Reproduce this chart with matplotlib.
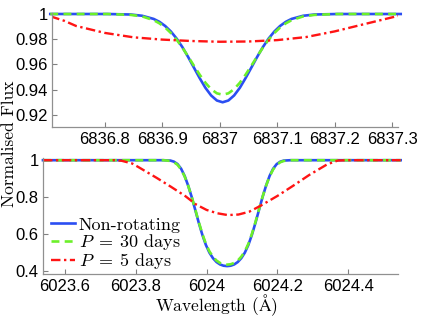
import numpy as np
import matplotlib
matplotlib.use("Agg")
import matplotlib.pyplot as plt
from matplotlib.ticker import FixedLocator, FixedFormatter

plt.rcParams['mathtext.fontset'] = 'cm'

# --- datos ---
# panel superior: linea 6837 A
wl_top = [6836.705, 6836.805, 6836.845, 6836.865, 6836.885, 6836.895, 6836.905,
          6836.915, 6836.925, 6836.935, 6836.945, 6836.955, 6836.965, 6836.975,
          6836.985, 6836.995, 6837.005, 6837.015, 6837.025, 6837.035, 6837.045,
          6837.055, 6837.065, 6837.075, 6837.085, 6837.095, 6837.105, 6837.115,
          6837.125, 6837.145, 6837.165, 6837.205, 6837.315]
flux_top_norot = [1.0, 1.0, 0.9996, 0.9986, 0.9961, 0.9938, 0.9905, 0.9861, 0.9805,
                  0.9737, 0.9659, 0.9575, 0.9492, 0.9415, 0.9354, 0.9314, 0.9300,
                  0.9314, 0.9354, 0.9415, 0.9492, 0.9575, 0.9659, 0.9737, 0.9805,
                  0.9861, 0.9905, 0.9938, 0.9961, 0.9986, 0.9996, 1.0, 1.0]
flux_top_p30 = [1.0, 1.0, 0.9993, 0.9981, 0.9951, 0.9926, 0.9893, 0.9849, 0.9796,
                0.9733, 0.9663, 0.9590, 0.9519, 0.9455, 0.9404, 0.9371, 0.9360,
                0.9371, 0.9404, 0.9455, 0.9519, 0.9590, 0.9663, 0.9733, 0.9796,
                0.9849, 0.9893, 0.9926, 0.9951, 0.9981, 0.9993, 1.0, 1.0]
wl_top_p5 = [6836.705, 6836.73, 6836.75, 6836.80, 6836.85, 6836.90, 6836.95, 6837.00,
             6837.05, 6837.10, 6837.15, 6837.20, 6837.25, 6837.315]
flux_top_p5 = [0.9982, 0.9945, 0.9905, 0.9850, 0.9815, 0.9797, 0.9786, 0.9780,
               0.9782, 0.9793, 0.9817, 0.9862, 0.9918, 0.9990]

# panel inferior: linea 6024 A
wl_bot = [6023.538, 6023.878, 6023.898, 6023.908, 6023.918, 6023.928, 6023.938,
          6023.948, 6023.958, 6023.968, 6023.978, 6023.988, 6023.998, 6024.008,
          6024.018, 6024.028, 6024.038, 6024.048, 6024.058, 6024.068, 6024.078,
          6024.088, 6024.098, 6024.108, 6024.118, 6024.128, 6024.138, 6024.148,
          6024.158, 6024.168, 6024.178, 6024.188, 6024.198, 6024.208, 6024.218,
          6024.238, 6024.548]
flux_bot_norot = [1.0, 1.0, 0.998, 0.992, 0.979, 0.954, 0.915, 0.862, 0.800, 0.730,
                  0.660, 0.595, 0.540, 0.498, 0.468, 0.447, 0.434, 0.427, 0.425,
                  0.427, 0.434, 0.447, 0.468, 0.498, 0.540, 0.595, 0.660, 0.730,
                  0.800, 0.862, 0.915, 0.954, 0.979, 0.992, 0.998, 1.0, 1.0]
flux_bot_p30 = [1.0, 1.0, 0.996, 0.989, 0.975, 0.950, 0.912, 0.862, 0.801, 0.733,
                0.664, 0.600, 0.546, 0.505, 0.476, 0.455, 0.442, 0.435, 0.433,
                0.435, 0.442, 0.455, 0.476, 0.505, 0.546, 0.600, 0.664, 0.733,
                0.801, 0.862, 0.912, 0.950, 0.975, 0.989, 0.996, 1.0, 1.0]
wl_bot_p5 = [6023.538, 6023.74, 6023.76, 6023.79, 6023.81, 6023.86, 6023.90, 6023.94,
             6023.97, 6024.00, 6024.03, 6024.06, 6024.09, 6024.12, 6024.15, 6024.20,
             6024.245, 6024.29, 6024.34, 6024.37, 6024.40, 6024.548]
flux_bot_p5 = [1.0, 1.0, 0.997, 0.982, 0.960, 0.903, 0.855, 0.805, 0.760, 0.730,
               0.712, 0.702, 0.705, 0.720, 0.750, 0.806, 0.862, 0.920, 0.977,
               0.998, 1.0, 1.0]

labels = ['Non-rotating', r'$P\;=\;30$ days', r'$P\;=\;5$ days']

xticks_top = [6836.8, 6836.9, 6837.0, 6837.1, 6837.2, 6837.3]
xticklabels_top = ['6836.8', '6836.9', '6837', '6837.1', '6837.2', '6837.3']
yticks_top = [0.92, 0.94, 0.96, 0.98, 1.0]
yticklabels_top = ['0.92', '0.94', '0.96', '0.98', '1']
xticks_bot = [6023.6, 6023.8, 6024.0, 6024.2, 6024.4]
xticklabels_bot = ['6023.6', '6023.8', '6024', '6024.2', '6024.4']
yticks_bot = [0.4, 0.6, 0.8, 1.0]
yticklabels_bot = ['0.4', '0.6', '0.8', '1']

c_blue = '#2b4ef2'
c_green = '#6cf02a'
c_red = '#ff1414'

fig = plt.figure(figsize=(4.21, 3.17), dpi=100)
ax1 = fig.add_axes([0.1235, 0.599, 0.8215, 0.360])
ax2 = fig.add_axes([0.102, 0.1356, 0.843, 0.366])

def estilo(ax, xt, xtl, yt, ytl):
    for s in ['top', 'right']:
        ax.spines[s].set_visible(False)
    for s in ['left', 'bottom']:
        ax.spines[s].set_color('#909090')
        ax.spines[s].set_linewidth(0.9)
    ax.xaxis.set_major_locator(FixedLocator(xt))
    ax.xaxis.set_major_formatter(FixedFormatter(xtl))
    ax.yaxis.set_major_locator(FixedLocator(yt))
    ax.yaxis.set_major_formatter(FixedFormatter(ytl))
    ax.tick_params(direction='in', length=3.5, width=0.8, color='#808080',
                   labelsize=12, top=False, right=False)
    ax.tick_params(axis='x', pad=3.5)
    ax.tick_params(axis='y', pad=3)
    for t in ax.get_xticklabels() + ax.get_yticklabels():
        t.set_fontfamily('Liberation Sans')

ax1.plot(wl_top, flux_top_norot, color=c_blue, lw=1.9, clip_on=False)
ax1.plot(wl_top, flux_top_p30, color=c_green, lw=1.9, ls=(0, (3, 2)), clip_on=False)
ax1.plot(wl_top_p5, flux_top_p5, color=c_red, lw=1.7, ls=(0, (4, 1.5, 1, 1.5)))
ax1.set_xlim(6836.708, 6837.31)
ax1.set_ylim(0.9103, 1.0008)
estilo(ax1, xticks_top, xticklabels_top, yticks_top, yticklabels_top)

l1, = ax2.plot(wl_bot, flux_bot_norot, color=c_blue, lw=1.9, clip_on=False)
l2, = ax2.plot(wl_bot, flux_bot_p30, color=c_green, lw=1.9, ls=(0, (3, 2)), clip_on=False)
l3, = ax2.plot(wl_bot_p5, flux_bot_p5, color=c_red, lw=1.7, ls=(0, (4, 1.5, 1, 1.5)),
               clip_on=False)
ax2.set_xlim(6023.538, 6024.54)
ax2.set_ylim(0.382, 1.012)
estilo(ax2, xticks_bot, xticklabels_bot, yticks_bot, yticklabels_bot)

leg = ax2.legend([l1, l2, l3], labels, loc='upper left', bbox_to_anchor=(0.022, 0.49),
                 frameon=False, borderpad=0, borderaxespad=0, handlelength=1.35,
                 handletextpad=0.2, labelspacing=-0.04,
                 prop={'family': 'cmr10', 'size': 13})

fig.text(0.0215, 0.545, 'Normalised Flux', rotation=90, ha='center', va='center',
         fontsize=12.5, family='cmr10')
fig.text(0.515, 0.017, r'Wavelength ($\mathrm{\AA}$)', ha='center', va='baseline',
         fontsize=12.5, family='cmr10')

fig.savefig('out.png', dpi=100)
